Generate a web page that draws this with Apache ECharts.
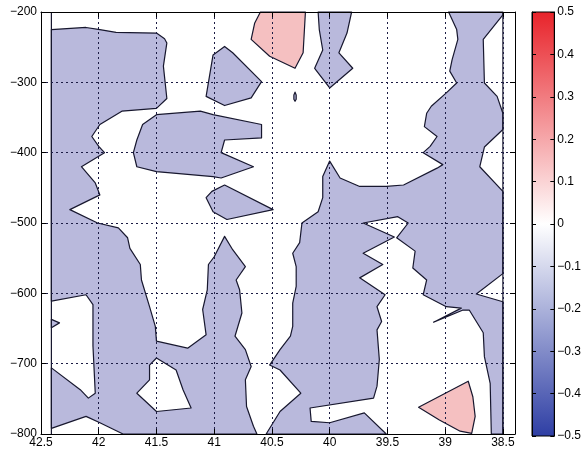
<!DOCTYPE html>
<html><head><meta charset="utf-8">
<script src="https://cdn.jsdelivr.net/npm/echarts@6/dist/echarts.min.js"></script>
<style>html,body{margin:0;padding:0;background:#fff}#c{width:584px;height:454px}</style>
</head><body><div id="c"></div>
<script>
// ---- axes / ticks ----
const xTicks = [42.5, 42, 41.5, 41, 40.5, 40, 39.5, 39, 38.5];
const lonAxisRange = [38.395, 42.5];
const depthRange = [-800, -200];
const depthStep = 100;
const cbRange = [-0.5, 0.5];
const cbStep = 0.1;
const dataLonEdges = [42.41, 38.5];   // west / east edge of the gridded data

// ---- contour regions (lon, depth) ----
// level below -0.1 (blue)
const blueWest = [[42.41,-225],[42.11,-222],[41.99,-225],[41.85,-229],[41.5,-230],[41.43,-238],[41.41,-244],[41.44,-277],[41.41,-323],[41.5,-337],[41.80,-341],[41.99,-360],[42.06,-377],[42.0,-391],[41.95,-400],[42.15,-420],[42.03,-443],[41.99,-460],[42.25,-481],[42.01,-500],[41.83,-507],[41.75,-521],[41.73,-536],[41.64,-559],[41.63,-581],[41.56,-619],[41.51,-647],[41.5,-668],[41.23,-678],[41.07,-659],[41.10,-623],[41.06,-595],[41.05,-559],[41.0,-548],[40.91,-519],[40.84,-538],[40.73,-562],[40.81,-581],[40.78,-595],[40.76,-628],[40.82,-661],[40.73,-680],[40.68,-704],[40.73,-723],[40.72,-761],[40.66,-789],[40.63,-800],[41.79,-800],[41.99,-784],[42.11,-775],[42.41,-792],[42.41,-706],[42.16,-737],[42.09,-749],[42.03,-742],[42.05,-675],[42.05,-616],[42.11,-602],[42.41,-611]];
const blueWestSpike = [[42.41,-637],[42.34,-642],[42.41,-649]];
const blueEast = [[38.97,-200],[38.50,-200],[38.50,-204],[38.67,-239],[38.66,-301],[38.55,-320],[38.50,-344],[38.50,-367],[38.66,-392],[38.70,-420],[38.50,-455],[38.50,-572],[38.73,-601],[38.50,-612],[38.50,-800],[38.60,-800],[38.61,-728],[38.66,-690],[38.67,-656],[38.79,-624],[38.85,-624],[39.10,-641],[38.86,-621],[38.99,-619],[39.19,-602],[39.16,-581],[39.28,-564],[39.26,-540],[39.42,-521],[39.32,-500],[39.41,-491],[39.71,-500],[39.44,-520],[39.71,-543],[39.54,-559],[39.74,-578],[39.52,-602],[39.59,-619],[39.55,-640],[39.59,-652],[39.57,-694],[39.59,-732],[39.62,-749],[40.17,-763],[40.16,-782],[40.0,-784],[39.70,-770],[39.51,-800],[40.55,-800],[40.43,-768],[40.25,-742],[40.43,-709],[40.52,-702],[40.43,-680],[40.34,-661],[40.32,-647],[40.32,-614],[40.29,-590],[40.29,-562],[40.32,-543],[40.26,-528],[40.24,-500],[40.10,-484],[40.06,-464],[40.06,-434],[40.0,-412],[39.91,-436],[39.74,-448],[39.51,-448],[39.36,-446],[39.07,-422],[39.02,-417],[39.19,-400],[39.13,-391],[39.07,-377],[39.18,-363],[39.16,-344],[39.12,-334],[38.99,-315],[38.90,-301],[38.96,-284],[38.94,-268],[38.89,-239],[38.90,-225]];
const blueBar = [[41.62,-360],[41.5,-346],[41.12,-341],[41.01,-346],[40.59,-360],[40.59,-379],[40.91,-382],[40.94,-400],[40.66,-420],[40.94,-436],[41.01,-434],[41.5,-427],[41.67,-420],[41.70,-400],[41.67,-382]];
const blueBlobMid = [[40.91,-446],[40.49,-481],[40.89,-495],[41.01,-484],[41.07,-464],[41.02,-455]];
const blueBlobTop = [[40.91,-249],[40.84,-258],[40.59,-299],[40.68,-322],[40.91,-333],[41.07,-320],[41.01,-261]];
const blueTop40 = [[40.10,-200],[39.81,-200],[39.85,-230],[39.92,-258],[39.80,-280],[40.0,-308],[40.13,-280],[40.06,-254],[40.09,-225]];
const blueDot = [[40.30,-314],[40.29,-318],[40.29,-324],[40.30,-327],[40.31,-324],[40.31,-318]];
// level -0.1..0.1 holes (white) inside blue
const whiteHole = [[41.5,-692],[41.33,-709],[41.27,-737],[41.20,-763],[41.5,-768],[41.67,-742],[41.56,-723],[41.56,-702]];
// level above 0.1 (red)
const pinkTop = [[40.60,-200],[40.21,-200],[40.23,-258],[40.30,-280],[40.52,-263],[40.68,-239],[40.65,-216]];
const pinkBottom = [[39.23,-762],[38.80,-725],[38.76,-747],[38.74,-775],[38.77,-799],[38.87,-796],[39.05,-780]];

const BLUE = '#b9b9dc', PINK = '#f5c0c1', WHITE = '#ffffff', EDGE = '#17172e';
const regions = [
  [blueWest, BLUE], [blueWestSpike, BLUE], [blueEast, BLUE], [blueBar, BLUE],
  [blueBlobMid, BLUE], [blueBlobTop, BLUE], [blueTop40, BLUE], [blueDot, BLUE],
  [whiteHole, WHITE], [pinkTop, PINK], [pinkBottom, PINK]
];

const FONT = 'Liberation Sans, Arial, Helvetica, sans-serif';
const fmt = v => (Math.round(v * 10) / 10).toString().replace('-', '\u2212');
const lbl = {color: '#000', fontSize: 12, fontFamily: FONT};
const grid = {color: '#1c1c44', type: [2, 3], width: 1};

const chart = echarts.init(document.getElementById('c'), null, {renderer: 'canvas'});
chart.setOption({
  animation: false,
  backgroundColor: '#fff',
  grid: [
    {left: 41, right: 69, top: 12, bottom: 20, show: true, backgroundColor: '#fff', borderWidth: 0},
    {left: 532, top: 12, width: 25, height: 424, show: false}
  ],
  xAxis: [
    {gridIndex: 0, type: 'value', inverse: true, min: lonAxisRange[0], max: lonAxisRange[1], position: 'bottom', z: 3,
     axisLine: {show: true, onZero: false, lineStyle: {color: '#000', width: 1}},
     axisTick: {inside: true, length: 5, customValues: xTicks, lineStyle: {color: '#000'}},
     axisLabel: Object.assign({customValues: xTicks, margin: 3, formatter: fmt}, lbl),
     splitLine: {show: true, lineStyle: grid}},
    {gridIndex: 0, type: 'value', inverse: true, min: lonAxisRange[0], max: lonAxisRange[1], position: 'top', z: 3,
     axisLine: {show: true, onZero: false, lineStyle: {color: '#000', width: 1}},
     axisTick: {inside: true, length: 5, customValues: xTicks, lineStyle: {color: '#000'}},
     axisLabel: {show: false}, splitLine: {show: false}},
    {gridIndex: 1, type: 'value', min: 0, max: 1, show: false}
  ],
  yAxis: [
    {gridIndex: 0, type: 'value', min: depthRange[0], max: depthRange[1], interval: depthStep, position: 'left', z: 3,
     axisLine: {show: true, onZero: false, lineStyle: {color: '#000', width: 1}},
     axisTick: {inside: true, length: 5, lineStyle: {color: '#000'}},
     axisLabel: Object.assign({margin: 4, formatter: fmt}, lbl),
     splitLine: {show: true, lineStyle: grid}},
    {gridIndex: 0, type: 'value', min: depthRange[0], max: depthRange[1], interval: depthStep, position: 'right', z: 3,
     axisLine: {show: true, onZero: false, lineStyle: {color: '#000', width: 1}},
     axisTick: {inside: true, length: 5, lineStyle: {color: '#000'}},
     axisLabel: {show: false}, splitLine: {show: false}},
    {gridIndex: 1, type: 'value', min: cbRange[0], max: cbRange[1], interval: cbStep, position: 'right', z: 3,
     axisLine: {show: true, onZero: false, lineStyle: {color: '#000', width: 1}},
     axisTick: {inside: true, length: 4, lineStyle: {color: '#000'}},
     axisLabel: Object.assign({margin: 3, formatter: fmt}, lbl),
     splitLine: {show: false}},
    {gridIndex: 1, type: 'value', min: cbRange[0], max: cbRange[1], interval: cbStep, position: 'left', z: 3,
     axisLine: {show: true, onZero: false, lineStyle: {color: '#000', width: 1}},
     axisTick: {inside: true, length: 4, lineStyle: {color: '#000'}},
     axisLabel: {show: false}, splitLine: {show: false}}
  ],
  series: [
    {type: 'custom', xAxisIndex: 0, yAxisIndex: 0, silent: true, z: 2,
     data: regions.map(r => r[0][0]),
     renderItem: (params, api) => {
       const r = regions[params.dataIndex];
       return {type: 'polygon', shape: {points: r[0].map(p => api.coord(p))},
               style: {fill: r[1], stroke: EDGE, lineWidth: 1.2, lineJoin: 'round'}};
     }},
    {type: 'line', xAxisIndex: 0, yAxisIndex: 0, silent: true, z: 2, symbol: 'none',
     lineStyle: {color: EDGE, width: 1.2},
     data: [[dataLonEdges[0], depthRange[0]], [dataLonEdges[0], depthRange[1]]]},
    {type: 'line', xAxisIndex: 0, yAxisIndex: 0, silent: true, z: 2, symbol: 'none',
     lineStyle: {color: EDGE, width: 1.2},
     data: [[dataLonEdges[1], depthRange[0]], [dataLonEdges[1], depthRange[1]]]},
    {type: 'custom', xAxisIndex: 2, yAxisIndex: 2, silent: true, z: 2,
     data: [[0, cbRange[0]]],
     renderItem: (params, api) => {
       const a = api.coord([0, cbRange[1]]);
       const b = api.coord([1, cbRange[0]]);
       return {type: 'rect', shape: {x: a[0], y: a[1], width: b[0] - a[0], height: b[1] - a[1]},
         style: {stroke: '#000', lineWidth: 1,
           fill: new echarts.graphic.LinearGradient(0, 0, 0, 1, [
             {offset: 0, color: '#e8232a'},
             {offset: 0.5, color: '#ffffff'},
             {offset: 1, color: '#2e3ea4'}])}};
     }}
  ]
});
</script></body></html>
